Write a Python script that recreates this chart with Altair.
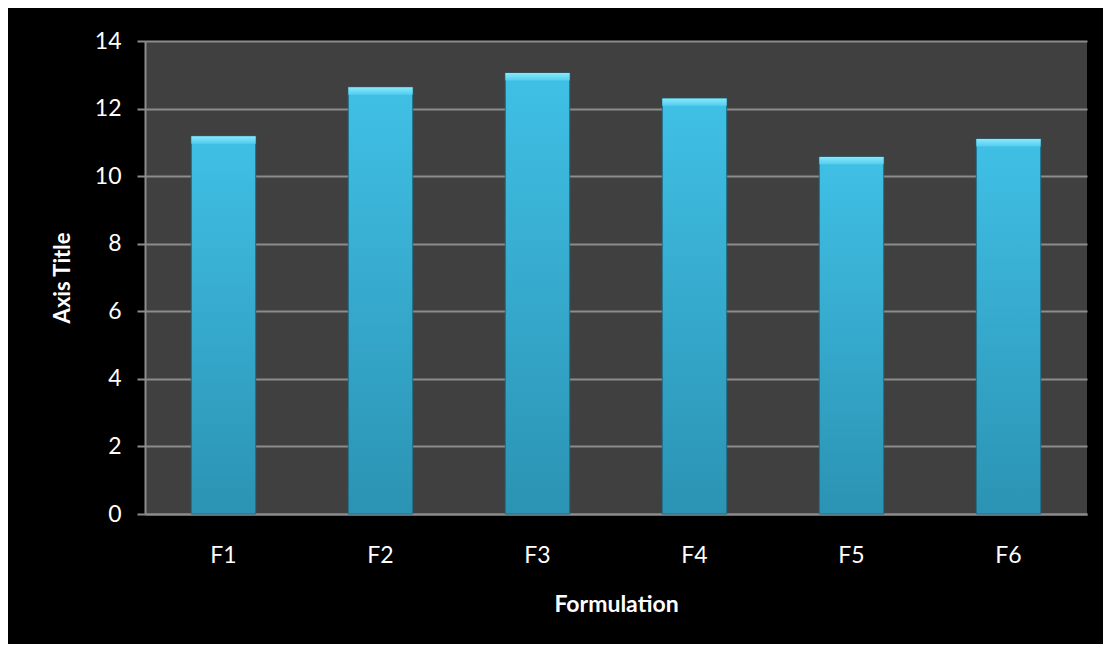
import altair as alt
import pandas as pd

categories = ["F1", "F2", "F3", "F4", "F5", "F6"]
values = [11.18, 12.63, 13.05, 12.30, 10.57, 11.10]

df = pd.DataFrame({"Formulation": categories, "value": values})

FONT = "Lato"

xenc = alt.X(
    "Formulation:N",
    sort=categories,
    scale=alt.Scale(paddingInner=0.59, paddingOuter=0.295),
    axis=alt.Axis(
        title="Formulation",
        labelAngle=0,
        labelColor="white",
        labelFontSize=23,
        labelFont=FONT,
        labelPadding=30,
        ticks=False,
        domainColor="#8c8c8c",
        domainWidth=2,
        titleColor="white",
        titleFont=FONT,
        titleFontSize=23,
        titleFontWeight="bold",
        titlePadding=26,
    ),
)

yscale = alt.Scale(domain=[0, 14], nice=False)

base = alt.Chart(df)

bars = base.mark_bar(
    color=alt.Gradient(
        gradient="linear",
        x1=0, x2=0, y1=0, y2=1,
        stops=[
            alt.GradientStop(offset=0, color="#40c0e6"),
            alt.GradientStop(offset=1, color="#2b93b3"),
        ],
    ),
    stroke="#1f6f88",
    strokeWidth=1,
).encode(
    x=xenc,
    y=alt.Y(
        "value:Q",
        scale=yscale,
        axis=alt.Axis(
            title="Axis Title",
            values=[0, 2, 4, 6, 8, 10, 12, 14],
            labelColor="white",
            labelFontSize=23,
            labelFont=FONT,
            labelPadding=16,
            tickColor="#8c8c8c",
            tickSize=8,
            tickWidth=2,
            domainColor="#8c8c8c",
            domainWidth=2,
            grid=True,
            gridColor="#8c8c8c",
            gridWidth=2,
            titleColor="white",
            titleFont=FONT,
            titleFontSize=22,
            titleFontWeight="bold",
            titlePadding=20,
        ),
    ),
)

bevel = base.transform_calculate(
    top="datum.value - 0.22"
).mark_bar(
    color=alt.Gradient(
        gradient="linear",
        x1=0, x2=0, y1=0, y2=1,
        stops=[
            alt.GradientStop(offset=0, color="#8ae8fb"),
            alt.GradientStop(offset=1, color="#52cdef"),
        ],
    ),
).encode(
    x=alt.X("Formulation:N", sort=categories),
    y=alt.Y("value:Q", scale=yscale),
    y2="top:Q",
)

chart = (
    alt.layer(bars, bevel)
    .properties(
        width=942,
        height=473,
        background="black",
        autosize=alt.AutoSizeParams(type="none"),
        padding={"left": 137, "top": 33, "right": 16, "bottom": 130},
    )
    .configure_view(fill="#404040", stroke=None)
)

chart.save("out.html", embed_options={"renderer": "svg", "actions": False})
